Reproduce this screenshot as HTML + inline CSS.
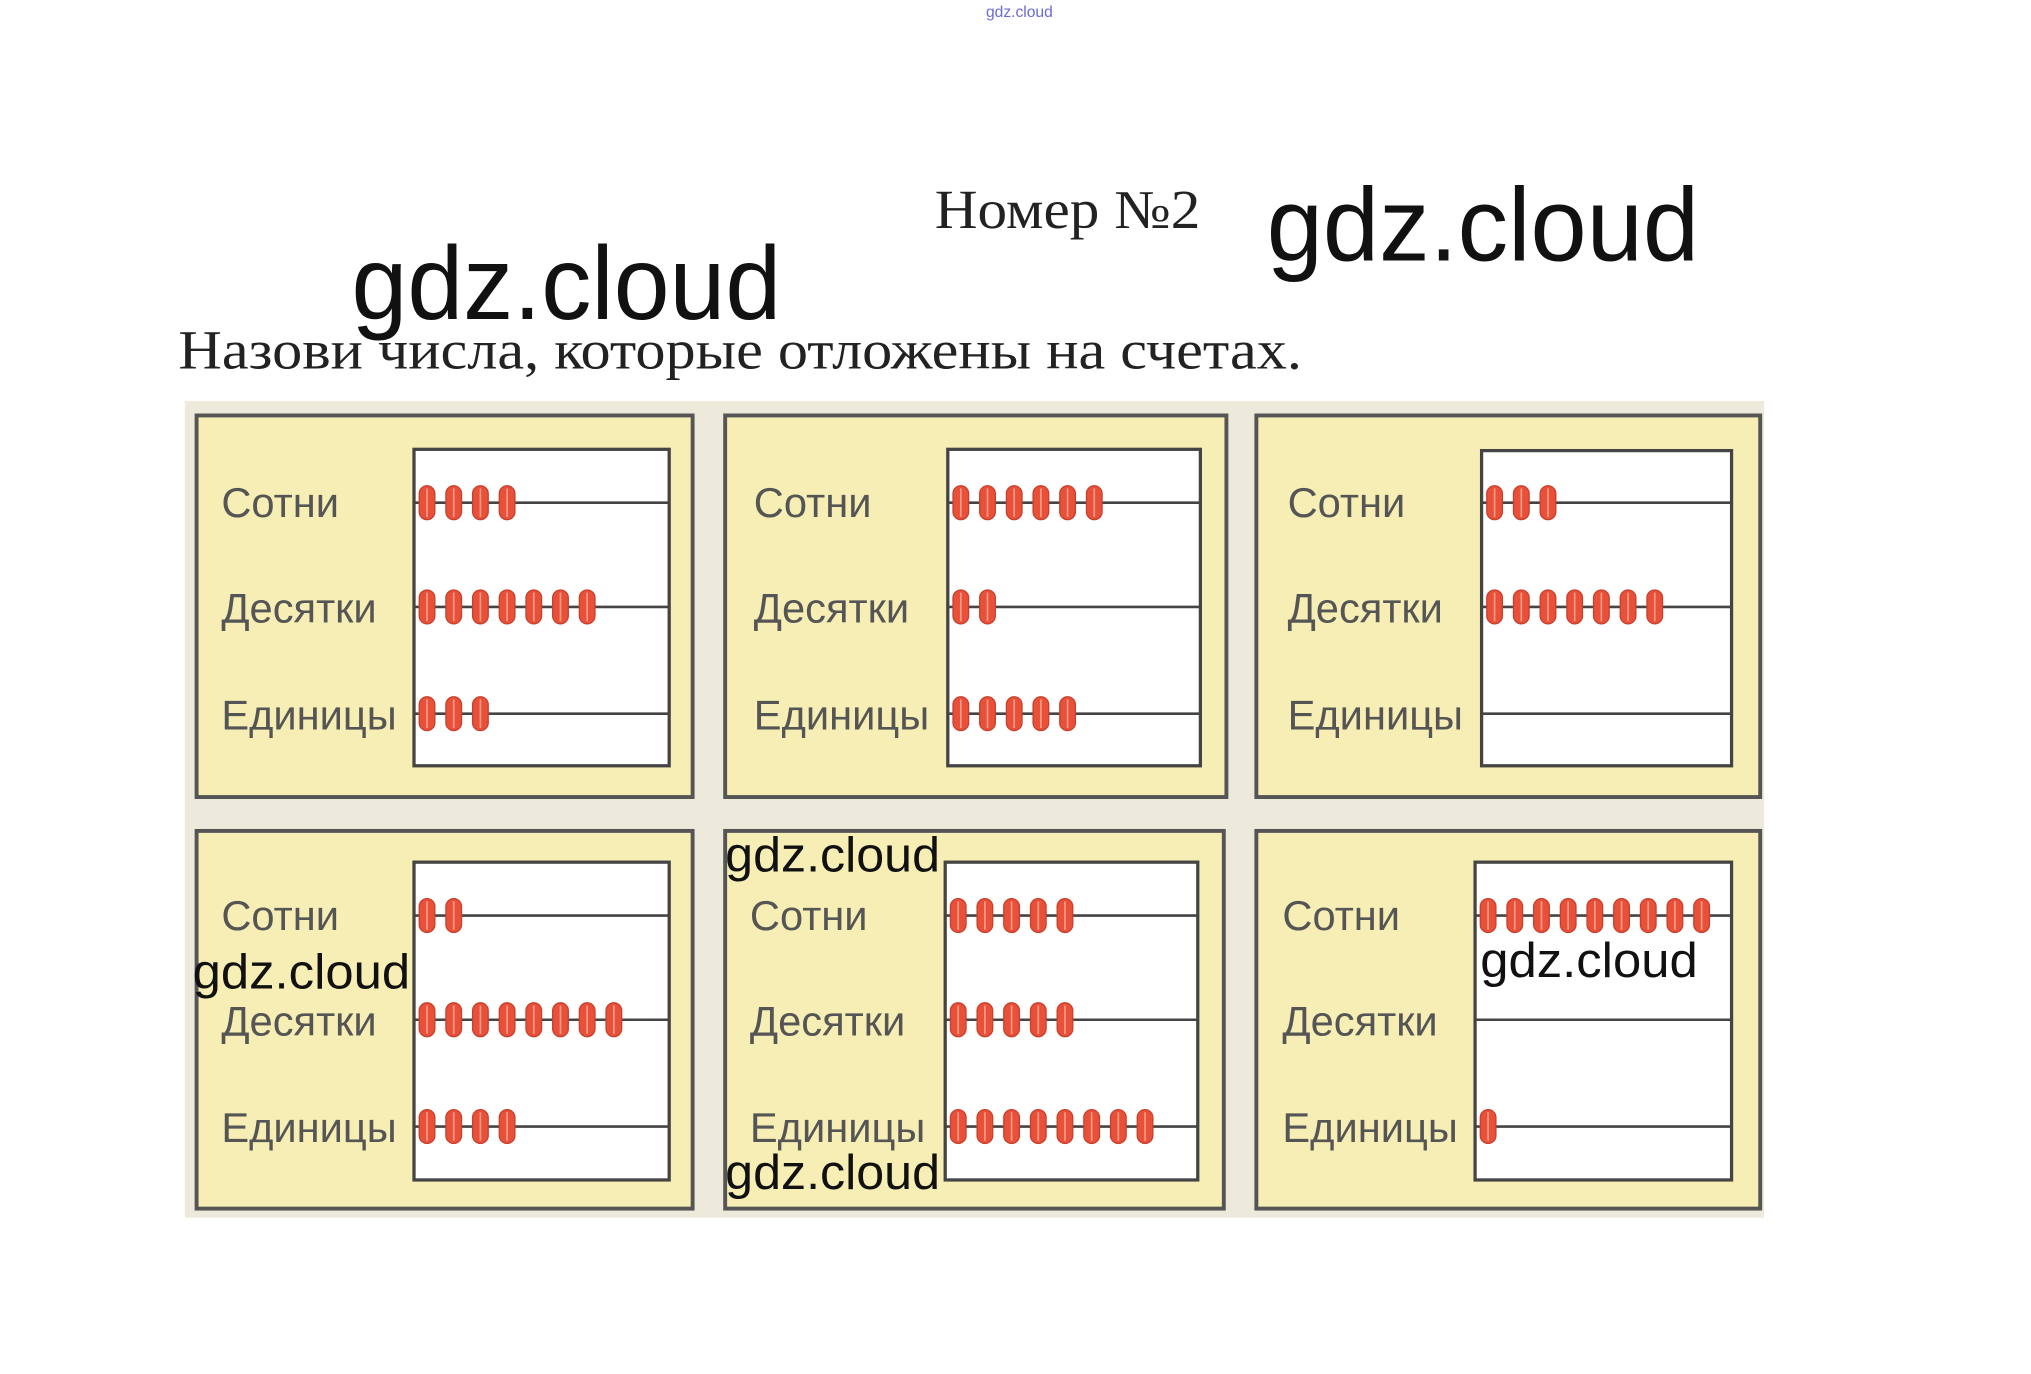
<!DOCTYPE html>
<html><head><meta charset="utf-8"><style>html,body{margin:0;padding:0;background:#fff}svg{display:block}</style></head>
<body>
<svg width="2031" height="1374" viewBox="0 0 1560 1055" preserveAspectRatio="none" xmlns="http://www.w3.org/2000/svg" xmlns:xlink="http://www.w3.org/1999/xlink">
<defs>
<g id="bd"><rect x="0" y="0" width="12" height="26" rx="6" fill="#e8503a" stroke="#c8402c" stroke-width="1"/><line x1="6" y1="2" x2="6" y2="24" stroke="#f39a82" stroke-width="1.3"/></g>
<g id="b1"><use href="#bd" xlink:href="#bd"/></g>
<g id="b2"><use href="#b1" xlink:href="#b1"/><use href="#bd" xlink:href="#bd" x="20.5"/></g>
<g id="b3"><use href="#b2" xlink:href="#b2"/><use href="#bd" xlink:href="#bd" x="41"/></g>
<g id="b4"><use href="#b3" xlink:href="#b3"/><use href="#bd" xlink:href="#bd" x="61.5"/></g>
<g id="b5"><use href="#b4" xlink:href="#b4"/><use href="#bd" xlink:href="#bd" x="82"/></g>
<g id="b6"><use href="#b5" xlink:href="#b5"/><use href="#bd" xlink:href="#bd" x="102.5"/></g>
<g id="b7"><use href="#b6" xlink:href="#b6"/><use href="#bd" xlink:href="#bd" x="123"/></g>
<g id="b8"><use href="#b7" xlink:href="#b7"/><use href="#bd" xlink:href="#bd" x="143.5"/></g>
<g id="b9"><use href="#b8" xlink:href="#b8"/><use href="#bd" xlink:href="#bd" x="164"/></g>
</defs>
<text x="783" y="13" font-family="Liberation Sans, sans-serif" font-size="12" fill="#6a6ad8" text-anchor="middle">gdz.cloud</text>
<text x="718" y="175" font-family="Liberation Serif, serif" font-size="42" fill="#222" textLength="204" lengthAdjust="spacingAndGlyphs">Номер №2</text>
<text x="973" y="200" font-family="Liberation Sans, sans-serif" font-size="80" fill="#111" textLength="332" lengthAdjust="spacingAndGlyphs">gdz.cloud</text>
<text x="270" y="245" font-family="Liberation Sans, sans-serif" font-size="80" fill="#111" textLength="330" lengthAdjust="spacingAndGlyphs">gdz.cloud</text>
<text x="137" y="283" font-family="Liberation Serif, serif" font-size="42" fill="#222" textLength="863" lengthAdjust="spacingAndGlyphs">Назови числа, которые отложены на счетах.</text>
<rect x="142" y="308" width="1213" height="627" fill="#eeeadb"/>
<g stroke="#555" stroke-width="3" fill="#f6eeb4">
<rect x="151" y="319" width="381" height="293"/>
<rect x="557" y="319" width="385" height="293"/>
<rect x="965" y="319" width="387" height="293"/>
<rect x="151" y="638" width="381" height="290"/>
<rect x="557" y="638" width="383" height="290"/>
<rect x="965" y="638" width="387" height="290"/>
</g>
<g stroke="#444" stroke-width="2.5" fill="#fff">
<rect x="318" y="345" width="196" height="243"/>
<rect x="728" y="345" width="194" height="243"/>
<rect x="1138" y="346" width="192" height="242"/>
<rect x="318" y="662" width="196" height="244"/>
<rect x="726" y="662" width="194" height="244"/>
<rect x="1133" y="662" width="197" height="244"/>
</g>
<g stroke="#444" stroke-width="2">
<line x1="318" y1="386" x2="514" y2="386"/><line x1="318" y1="466" x2="514" y2="466"/><line x1="318" y1="548" x2="514" y2="548"/>
<line x1="728" y1="386" x2="922" y2="386"/><line x1="728" y1="466" x2="922" y2="466"/><line x1="728" y1="548" x2="922" y2="548"/>
<line x1="1138" y1="386" x2="1330" y2="386"/><line x1="1138" y1="466" x2="1330" y2="466"/><line x1="1138" y1="548" x2="1330" y2="548"/>
<line x1="318" y1="703" x2="514" y2="703"/><line x1="318" y1="783" x2="514" y2="783"/><line x1="318" y1="865" x2="514" y2="865"/>
<line x1="726" y1="703" x2="920" y2="703"/><line x1="726" y1="783" x2="920" y2="783"/><line x1="726" y1="865" x2="920" y2="865"/>
<line x1="1133" y1="703" x2="1330" y2="703"/><line x1="1133" y1="783" x2="1330" y2="783"/><line x1="1133" y1="865" x2="1330" y2="865"/>
</g>
<use href="#b4" xlink:href="#b4" x="322" y="373"/>
<use href="#b7" xlink:href="#b7" x="322" y="453"/>
<use href="#b3" xlink:href="#b3" x="322" y="535"/>
<use href="#b6" xlink:href="#b6" x="732" y="373"/>
<use href="#b2" xlink:href="#b2" x="732" y="453"/>
<use href="#b5" xlink:href="#b5" x="732" y="535"/>
<use href="#b3" xlink:href="#b3" x="1142" y="373"/>
<use href="#b7" xlink:href="#b7" x="1142" y="453"/>
<use href="#b2" xlink:href="#b2" x="322" y="690"/>
<use href="#b8" xlink:href="#b8" x="322" y="770"/>
<use href="#b4" xlink:href="#b4" x="322" y="852"/>
<use href="#b5" xlink:href="#b5" x="730" y="690"/>
<use href="#b5" xlink:href="#b5" x="730" y="770"/>
<use href="#b8" xlink:href="#b8" x="730" y="852"/>
<use href="#b9" xlink:href="#b9" x="1137" y="690"/>
<use href="#b1" xlink:href="#b1" x="1137" y="852"/>
<g font-family="Liberation Sans, sans-serif" font-size="32" fill="#555">
<text x="170" y="397">Сотни</text><text x="170" y="478">Десятки</text><text x="170" y="560">Единицы</text>
<text x="579" y="397">Сотни</text><text x="579" y="478">Десятки</text><text x="579" y="560">Единицы</text>
<text x="989" y="397">Сотни</text><text x="989" y="478">Десятки</text><text x="989" y="560">Единицы</text>
<text x="170" y="714">Сотни</text><text x="170" y="795">Десятки</text><text x="170" y="877">Единицы</text>
<text x="576" y="714">Сотни</text><text x="576" y="795">Десятки</text><text x="576" y="877">Единицы</text>
<text x="985" y="714">Сотни</text><text x="985" y="795">Десятки</text><text x="985" y="877">Единицы</text>
</g>
<g font-family="Liberation Sans, sans-serif" font-size="38" fill="#111">
<text x="557" y="669" textLength="165" lengthAdjust="spacingAndGlyphs">gdz.cloud</text>
<text x="148" y="759" textLength="167" lengthAdjust="spacingAndGlyphs">gdz.cloud</text>
<text x="557" y="913" textLength="165" lengthAdjust="spacingAndGlyphs">gdz.cloud</text>
<text x="1137" y="750" textLength="167" lengthAdjust="spacingAndGlyphs">gdz.cloud</text>
</g>
</svg>
</body></html>
